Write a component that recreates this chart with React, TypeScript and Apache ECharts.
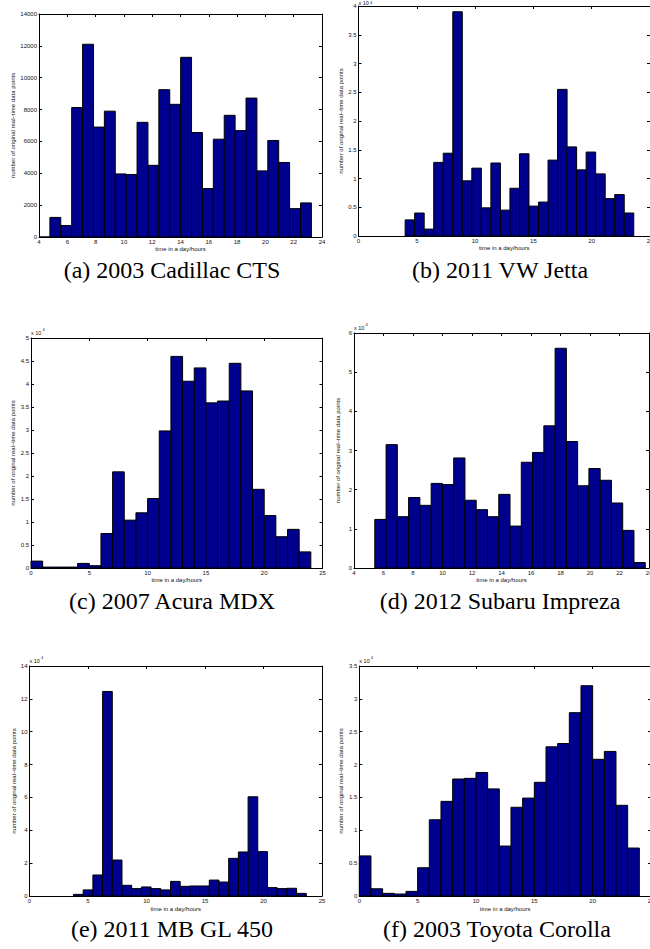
import React, { useEffect, useRef } from "react";
import * as echarts from "echarts";

// ---- data (counts per histogram bin) ----
// (a) 2003 Cadillac CTS – raw counts
const cadillacBinStart = 4.0;
const cadillacBinWidth = 0.77;
const cadillacCounts = [0, 1230, 720, 8130, 12100, 6900, 7900, 3960, 3920, 7200, 4500, 9250, 8330, 11280, 6560, 3040, 6140, 7640, 6680, 8720, 4150, 6060, 4680, 1780, 2140];

// (b) 2011 VW Jetta – x 10^4
const jettaBinStart = 4.0;
const jettaBinWidth = 0.817;
const jettaCounts = [0.28, 0.4, 0.12, 1.28, 1.44, 3.9, 0.96, 1.18, 0.49, 1.27, 0.45, 0.83, 1.43, 0.52, 0.59, 1.32, 2.55, 1.55, 1.15, 1.46, 1.08, 0.65, 0.72, 0.4];

// (c) 2007 Acura MDX – x 10^4
const acuraBinStart = 0;
const acuraBinWidth = 1;
const acuraCounts = [0.15, 0.02, 0.02, 0.02, 0.1, 0.05, 0.75, 2.09, 1.04, 1.2, 1.51, 2.98, 4.6, 4.06, 4.35, 3.59, 3.63, 4.45, 3.85, 1.71, 1.14, 0.68, 0.84, 0.35];

// (d) 2012 Subaru Impreza – x 10^4
const subaruBinStart = 5.41;
const subaruBinWidth = 0.764;
const subaruCounts = [1.24, 3.15, 1.31, 1.8, 1.6, 2.16, 2.13, 2.81, 1.73, 1.49, 1.31, 1.88, 1.07, 2.7, 2.95, 3.63, 5.61, 3.23, 2.1, 2.54, 2.24, 1.66, 0.96, 0.14];

// (e) 2011 MB GL 450 – x 10^4
const mbBinStart = 3.76;
const mbBinWidth = 0.829;
const mbCounts = [0.1, 0.37, 1.28, 12.45, 2.19, 0.65, 0.45, 0.55, 0.45, 0.37, 0.89, 0.59, 0.61, 0.61, 0.97, 0.85, 2.29, 2.68, 6.04, 2.7, 0.51, 0.45, 0.47, 0.16];

// (f) 2003 Toyota Corolla – x 10^4
const corollaBinStart = 0;
const corollaBinWidth = 1;
const corollaCounts = [0.61, 0.11, 0.04, 0.03, 0.07, 0.43, 1.16, 1.44, 1.78, 1.79, 1.88, 1.63, 0.76, 1.35, 1.49, 1.73, 2.27, 2.32, 2.79, 3.2, 2.08, 2.2, 1.38, 0.73];

const captions = [
  "(a) 2003 Cadillac CTS",
  "(b) 2011 VW Jetta",
  "(c) 2007 Acura MDX",
  "(d) 2012 Subaru Impreza",
  "(e) 2011 MB GL 450",
  "(f) 2003 Toyota Corolla",
];

const xAxisName = "time in a day/hours";
const yAxisName = "number of original real\u2013time data points";

// ---- layout / styling ----
const panels = [
  { start: cadillacBinStart, width: cadillacBinWidth, counts: cadillacCounts, xMin: 4, xMax: 24, xInt: 2, yMax: 14000, yInt: 2000, exp: false, grid: { left: 39, top: 14, width: 283, height: 223 }, yNameGap: 23, xNameGap: 9, capX: 172, capY: 270 },
  { start: jettaBinStart, width: jettaBinWidth, counts: jettaCounts, xMin: 0, xMax: 25, xInt: 5, yMax: 4, yInt: 0.5, exp: true, grid: { left: 358.5, top: 6, width: 291.5, height: 230 }, yNameGap: 14, xNameGap: 9, capX: 500, capY: 270 },
  { start: acuraBinStart, width: acuraBinWidth, counts: acuraCounts, xMin: 0, xMax: 25, xInt: 5, yMax: 5, yInt: 0.5, exp: true, grid: { left: 31, top: 338, width: 291.5, height: 230 }, yNameGap: 15, xNameGap: 9, capX: 172, capY: 601 },
  { start: subaruBinStart, width: subaruBinWidth, counts: subaruCounts, xMin: 4, xMax: 24, xInt: 2, yMax: 6, yInt: 1, exp: true, grid: { left: 354, top: 333, width: 295, height: 235 }, yNameGap: 13, xNameGap: 9, capX: 500, capY: 601 },
  { start: mbBinStart, width: mbBinWidth, counts: mbCounts, xMin: 0, xMax: 25, xInt: 5, yMax: 14, yInt: 2, exp: true, grid: { left: 29.5, top: 666, width: 292.5, height: 230 }, yNameGap: 12.5, xNameGap: 10, capX: 172, capY: 929 },
  { start: corollaBinStart, width: corollaBinWidth, counts: corollaCounts, xMin: 0, xMax: 25, xInt: 5, yMax: 3.5, yInt: 0.5, exp: true, grid: { left: 359.3, top: 666, width: 291.7, height: 230 }, yNameGap: 15, xNameGap: 10, capX: 497, capY: 929 },
];

const SANS = '"Liberation Sans", Arial, sans-serif';
const SERIF = '"Liberation Serif", "DejaVu Serif", serif';
const BAR_FILL = "#00008f";

export default function App() {
  const ref = useRef<HTMLDivElement>(null);

  useEffect(() => {
    if (!ref.current) return;
    const chart = echarts.init(ref.current, undefined, { renderer: "svg" });

    const grids: any[] = [];
    const xAxes: any[] = [];
    const yAxes: any[] = [];
    const series: any[] = [];
    const graphics: any[] = [];

    panels.forEach((p, i) => {
      grids.push({ left: p.grid.left, top: p.grid.top, width: p.grid.width, height: p.grid.height, containLabel: false, outerBoundsMode: "none" });

      const line = { show: true, onZero: false, lineStyle: { color: "#000", width: 1 } };
      const tick = { show: true, inside: true, length: 3, lineStyle: { color: "#000", width: 1 } };
      const labelBase = { fontSize: 6, color: "#111", fontFamily: SANS, formatter: (v: number) => String(v) };

      xAxes.push({
        type: "value", gridIndex: i, position: "bottom", min: p.xMin, max: p.xMax, interval: p.xInt,
        axisLine: line, axisTick: tick, splitLine: { show: false },
        axisLabel: { ...labelBase, margin: 2 },
        name: xAxisName, nameLocation: "middle", nameGap: p.xNameGap,
        nameTextStyle: { fontSize: 6, color: "#111", fontFamily: SANS },
      });
      xAxes.push({
        type: "value", gridIndex: i, position: "top", min: p.xMin, max: p.xMax, interval: p.xInt,
        axisLine: line, axisTick: tick, splitLine: { show: false }, axisLabel: { show: false },
      });
      yAxes.push({
        type: "value", gridIndex: i, position: "left", min: 0, max: p.yMax, interval: p.yInt,
        axisLine: line, axisTick: tick, splitLine: { show: false },
        axisLabel: { ...labelBase, margin: 2 },
        name: yAxisName, nameLocation: "middle", nameGap: p.yNameGap, nameRotate: 90,
        nameTextStyle: { fontSize: 6, color: "#111", fontFamily: SANS },
      });
      yAxes.push({
        type: "value", gridIndex: i, position: "right", min: 0, max: p.yMax, interval: p.yInt,
        axisLine: line, axisTick: tick, splitLine: { show: false }, axisLabel: { show: false },
      });

      const data = p.counts.map((c, k) => [p.start + k * p.width, p.start + (k + 1) * p.width, c]);
      series.push({
        type: "custom",
        xAxisIndex: 2 * i,
        yAxisIndex: 2 * i,
        data,
        encode: { x: [0, 1], y: 2 },
        renderItem: (_params: any, api: any) => {
          const a = api.coord([api.value(0), api.value(2)]);
          const b = api.coord([api.value(1), 0]);
          return {
            type: "rect",
            shape: { x: a[0], y: a[1], width: b[0] - a[0], height: b[1] - a[1] },
            style: { fill: BAR_FILL, stroke: "#000", lineWidth: 1 },
          };
        },
      });

      if (p.exp) {
        const baseY = Math.max(p.grid.top - 5, 3);
        const supY = Math.max(p.grid.top - 8.5, 2.2);
        graphics.push({
          type: "text", x: p.grid.left, y: baseY,
          style: { text: "x 10", font: `5.5px ${SANS}`, fill: "#111", textAlign: "left", textVerticalAlign: "middle", align: "left", verticalAlign: "middle" },
        });
        graphics.push({
          type: "text", x: p.grid.left + 11.5, y: supY,
          style: { text: "4", font: `4px ${SANS}`, fill: "#111", textAlign: "left", textVerticalAlign: "middle", align: "left", verticalAlign: "middle" },
        });
      }

      graphics.push({
        type: "text", x: p.capX, y: p.capY,
        style: { text: captions[i], font: `24px ${SERIF}`, fill: "#000", textAlign: "center", textVerticalAlign: "middle", align: "center", verticalAlign: "middle" },
      });
    });

    chart.setOption({
      animation: false,
      backgroundColor: "#fff",
      grid: grids,
      xAxis: xAxes,
      yAxis: yAxes,
      series,
      graphic: graphics,
    });

    return () => chart.dispose();
  }, []);

  return <div ref={ref} style={{ position: "absolute", left: 0, top: 0, width: 650, height: 949 }} />;
}
